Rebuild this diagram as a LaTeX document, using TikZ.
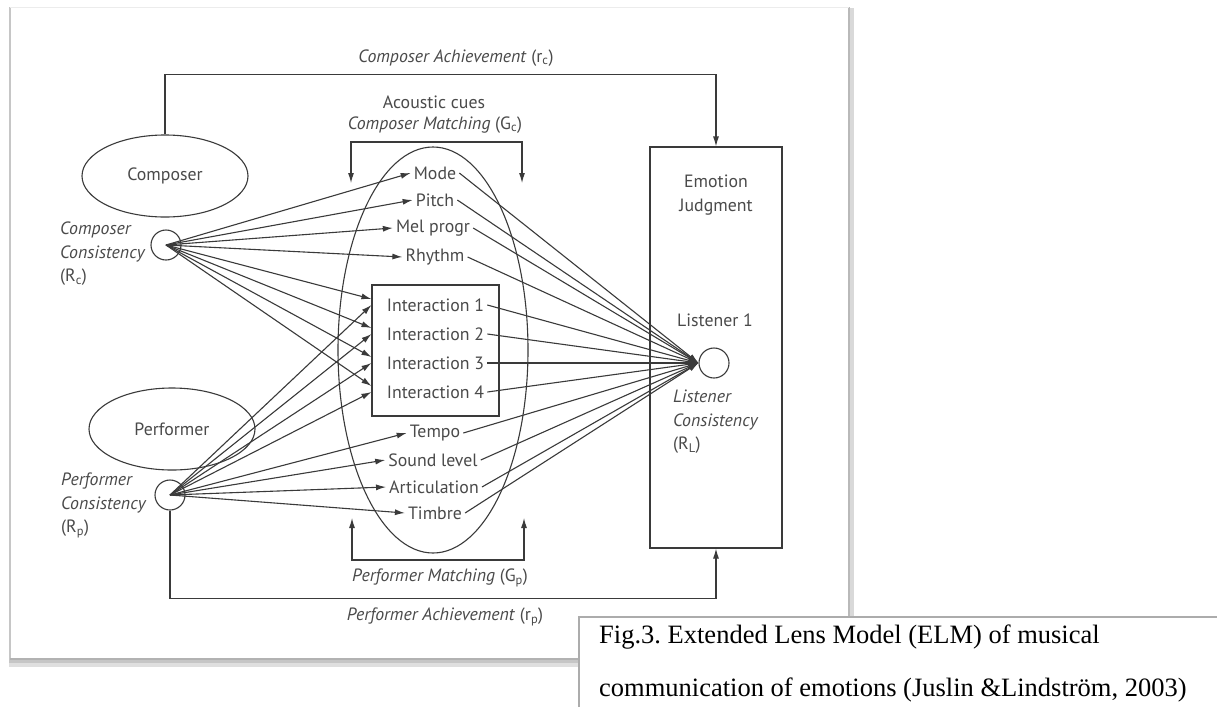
\documentclass[tikz,border=0pt]{standalone}
\usepackage{fontspec}
\setmainfont{PT Sans}
\newfontfamily\capfont{Liberation Serif}
\usetikzlibrary{arrows.meta,calc,shapes.geometric}
\definecolor{linec}{HTML}{3A3A3A}
\definecolor{txtc}{HTML}{4A4A4A}
\newcommand{\lbsize}{\fontsize{17.8}{23.5}\selectfont}
\frenchspacing
\begin{document}
\begin{tikzpicture}[x=1pt,y=-1pt,
  ln/.style={draw=linec,line width=1.1pt},
  arr/.style={ln,-{Latex[length=10pt,width=6pt]}},
  darr/.style={ln,{Latex[length=10pt,width=6pt]}-{Latex[length=10pt,width=6pt]}},
  lbl/.style={text=txtc,font=\lbsize,inner sep=2pt},
  cue/.style={lbl,inner xsep=3pt},
  oval/.style={ellipse,draw=linec,line width=1.1pt,inner sep=0pt,text=txtc,font=\lbsize},
  ring/.style={circle,draw=linec,line width=1.1pt,minimum size=30pt,inner sep=0pt,fill=white},
  boxed/.style={draw=linec,line width=1.1pt,inner sep=0pt},
  multi/.style={lbl,align=left,anchor=north west}]
\useasboundingbox (0,0) rectangle (1217,707);
\fill[white] (0,0) rectangle (1217,707);

% outer panel with soft drop shadow
\draw[gray!25,line width=5pt] (9,664) -- (852,664);
\draw[gray!45,line width=3pt] (9,661) -- (852,661);
\draw[gray!30,line width=4pt] (852,8) -- (852,662);
\draw[gray!55,line width=1.6pt] (849,7) -- (849,660);
\draw[gray!45,line width=1.4pt] (10,7) -- (10,660);
\draw[gray!15,line width=1pt] (10,7) -- (849,7);
\draw[gray!60,line width=1.2pt] (10,659) -- (849,659);

% shapes
\node[oval,minimum width=166pt,minimum height=82pt] (comp) at (165,176) {Composer};
\node[oval,minimum width=166pt,minimum height=82pt] (perf) at (172,429) {Performer};
\node[oval,minimum width=190pt,minimum height=406pt] (lens) at (433,350) {};
\node[boxed,minimum width=132pt,minimum height=401pt] (emo) at (716,347.5) {};
\node[boxed,minimum width=127pt,minimum height=131pt] (ibox) at (435.5,350.5) {};

% cue labels
\node[cue] (mode) at (435,173) {Mode};
\node[cue] (pitch) at (435,200) {Pitch};
\node[cue] (mel) at (433,228) {Mel progr};
\node[cue] (rhythm) at (435,257) {Rhythm};
\node[cue] (i1) at (435.5,305) {Interaction 1};
\node[cue] (i2) at (435.5,334) {Interaction 2};
\node[cue] (i3) at (435.5,363) {Interaction 3};
\node[cue] (i4) at (435.5,392) {Interaction 4};
\node[cue] (tempo) at (435,433) {Tempo};
\node[cue] (sound) at (433,460) {Sound level};
\node[cue] (artic) at (434,487) {Articulation};
\node[cue] (timbre) at (435,513) {Timbre};

\coordinate (w1) at (ibox.west |- i1);
\coordinate (w2) at (ibox.west |- i2);
\coordinate (w3) at (ibox.west |- i3);
\coordinate (w4) at (ibox.west |- i4);

% consistency circles
\node[ring] (C) at (166,245) {};
\node[ring] (P) at (170,495) {};
\node[ring] (L) at (714,363) {};

% composer fan
\foreach \t in {mode,pitch,mel,rhythm}
  \draw[arr] (C.center) -- (\t.west);
\foreach \t in {w1,w2,w3,w4}
  \draw[arr] (C.center) -- ([yshift=6pt]\t);
% performer fan
\foreach \t in {w1,w2,w3,w4}
  \draw[arr] (P.center) -- (\t);
\foreach \t in {tempo,sound,artic,timbre}
  \draw[arr] (P.center) -- (\t.west);
% cues to listener
\foreach \t in {mode,pitch,mel,rhythm,i1,i2,i3,i4,tempo,sound,artic,timbre}
  \draw[arr] (\t.east) -- (L.west);

% achievement paths
\draw[arr] (comp.north) -- ++(0,-60) -| (emo.north);
\draw[arr] (P.south) -- ++(0,88) -| (emo.south);

% matching brackets
\coordinate (cmL) at (351,183);
\coordinate (cmR) at (522,183);
\draw[darr] (cmL) -- ++(0,-41) -| (cmR);
\coordinate (pmL) at (352,518);
\coordinate (pmR) at (524,518);
\draw[darr] (pmL) -- ++(0,42) -| (pmR);

% labels
\node[lbl] (tca) at (456,58) {\textit{Composer Achievement} (r\textsubscript{c})};
\node[lbl] (tac) at (434,102) {Acoustic cues};
\node[lbl] (tcm) at (435,125) {\textit{Composer Matching} (G\textsubscript{c})};
\node[lbl] (tpm) at (440,578) {\textit{Performer Matching} (G\textsubscript{p})};
\node[lbl] (tpa) at (445,617) {\textit{Performer Achievement} (r\textsubscript{p})};
\node[lbl,align=center] (temo) at (716,195) {Emotion\\Judgment};
\node[lbl] (tl1) at (715,320) {Listener 1};
\node[multi] (tcc) at (58,220) {\textit{Composer}\\\textit{Consistency}\\(R\textsubscript{c})};
\node[multi] (tpc) at (59,471) {\textit{Performer}\\\textit{Consistency}\\(R\textsubscript{p})};
\node[multi] (tlc) at (671,388) {\textit{Listener}\\\textit{Consistency}\\(R\textsubscript{L})};

% caption box
\fill[white] (579,617) rectangle (1217,707);
\draw[gray!65,line width=2pt] (579,707) -- (579,617) -- (1217,617);
\node[anchor=base west,inner sep=0pt,font=\capfont\fontsize{26.5}{26.5}\selectfont] (cap1) at (599,643) {Fig.3. Extended Lens Model (ELM) of musical};
\node[anchor=base west,inner sep=0pt,font=\capfont\fontsize{26.5}{26.5}\selectfont] (cap2) at (599,696) {communication of emotions (Juslin \&Lindström, 2003)};
\end{tikzpicture}
\end{document}
